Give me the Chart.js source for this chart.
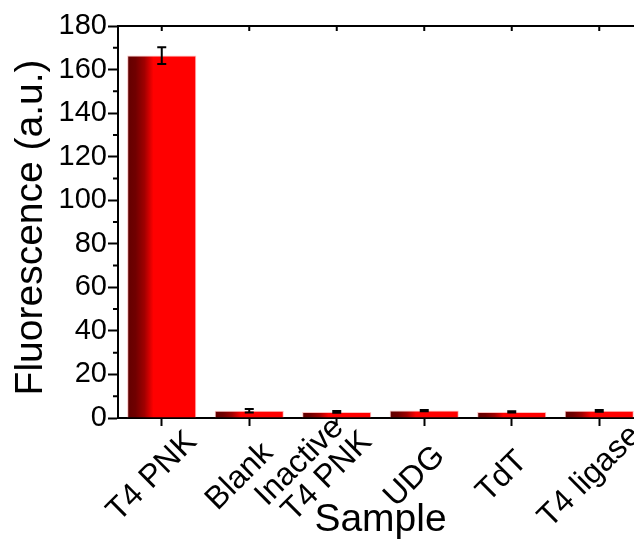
<!DOCTYPE html>
<html>
<head>
<meta charset="utf-8">
<script src="https://cdn.jsdelivr.net/npm/chart.js@4/dist/chart.umd.min.js"></script>
<style>
  html, body { margin: 0; padding: 0; overflow: hidden; background: #fff; }
  #wrap { width: 650px; height: 544px; position: relative; }
</style>
</head>
<body>
<div id="wrap"><canvas id="c" width="650" height="544"></canvas></div>
<script>
// Samples tested and their mean fluorescence with standard deviation
const samples = ['T4 PNK', 'Blank', ['Inactive', 'T4 PNK'], 'UDG', 'TdT', 'T4 ligase'];
const fluorescence = [166.4, 3.3, 2.8, 3.4, 2.8, 3.3];
const errors = [3.8, 0.8, 0.4, 0.3, 0.3, 0.4];
const yMajorTicks = [0, 20, 40, 60, 80, 100, 120, 140, 160, 180];
const yMinorTicks = [10, 30, 50, 70, 90, 110, 130, 150, 170];

const FONT = "'Liberation Sans', Arial, sans-serif";
const BAR_FRACTION = 0.79;
const X_TICK_LEN = 8;

// Horizontal dark-to-bright red fill for each bar
function barFill(ctx) {
  const chart = ctx.chart;
  const x = chart.scales && chart.scales.x;
  if (!chart.chartArea || !x || ctx.dataIndex === undefined) return '#ff0000';
  const center = x.getPixelForValue(ctx.dataIndex);
  const half = (x.width / samples.length) * BAR_FRACTION / 2;
  const g = chart.ctx.createLinearGradient(center - half, 0, center + half, 0);
  g.addColorStop(0, '#620000');
  g.addColorStop(0.12, '#700000');
  g.addColorStop(0.25, '#a00000');
  g.addColorStop(0.38, '#ff0000');
  g.addColorStop(1, '#ff0000');
  return g;
}

// Error bars with short caps
const errorBars = {
  id: 'errorBars',
  afterDatasetsDraw(chart) {
    const meta = chart.getDatasetMeta(0);
    const y = chart.scales.y;
    const c = chart.ctx;
    c.save();
    c.strokeStyle = '#000';
    c.lineWidth = 2;
    meta.data.forEach((bar, i) => {
      const top = y.getPixelForValue(fluorescence[i] + errors[i]);
      const bot = y.getPixelForValue(fluorescence[i] - errors[i]);
      const cap = 4.5;
      c.beginPath();
      c.moveTo(bar.x, top); c.lineTo(bar.x, bot);
      c.moveTo(bar.x - cap, top); c.lineTo(bar.x + cap, top);
      c.moveTo(bar.x - cap, bot); c.lineTo(bar.x + cap, bot);
      c.stroke();
    });
    c.restore();
  }
};

// Top frame line, inward top ticks and minor y ticks
const frame = {
  id: 'frame',
  afterDraw(chart) {
    const { left, top } = chart.chartArea;
    const c = chart.ctx;
    const x = chart.scales.x, y = chart.scales.y;
    c.save();
    c.strokeStyle = '#000';
    c.lineWidth = 2;
    c.beginPath();
    c.moveTo(left - 1, top); c.lineTo(chart.width, top);
    c.stroke();
    c.beginPath();
    samples.forEach((s, i) => {
      const px = x.getPixelForValue(i);
      c.moveTo(px, top); c.lineTo(px, top + 5);
    });
    yMinorTicks.forEach(v => {
      const py = y.getPixelForValue(v);
      c.moveTo(left - 5, py); c.lineTo(left, py);
    });
    c.stroke();
    c.restore();
  }
};

// Sample names, rotated 45 degrees and centred on a point below each tick;
// a wrapped name keeps its last line there and stacks earlier lines above it
const sampleLabels = {
  id: 'sampleLabels',
  afterDraw(chart) {
    const x = chart.scales.x;
    const c = chart.ctx;
    const size = 32, lineH = 30;
    const baseY = chart.chartArea.bottom + 19;
    c.save();
    c.font = size + 'px ' + FONT;
    c.fillStyle = '#000';
    c.textAlign = 'center';
    c.textBaseline = 'middle';
    const spaceW = c.measureText(' ').width;
    const centreShift = size * 1.75;
    samples.forEach((label, i) => {
      const lines = Array.isArray(label) ? label : [label];
      const px = x.getPixelForValue(i);
      c.save();
      c.translate(px + 30, baseY);
      c.rotate(-Math.PI / 4);
      lines.forEach((ln, k) => {
        const last = k === lines.length - 1;
        c.fillText(ln, -centreShift - (last ? 0 : spaceW), (k - (lines.length - 1)) * lineH);
      });
      c.restore();
    });
    c.restore();
  }
};

new Chart(document.getElementById('c'), {
  type: 'bar',
  data: {
    labels: samples,
    datasets: [{
      data: fluorescence,
      backgroundColor: barFill,
      borderColor: 'rgba(255,150,150,0.6)',
      borderWidth: 1,
      borderSkipped: 'bottom',
      categoryPercentage: BAR_FRACTION,
      barPercentage: 1.0
    }]
  },
  options: {
    responsive: false,
    animation: false,
    layout: { padding: { left: 0, top: 26, right: 7, bottom: 0 } },
    plugins: { legend: { display: false }, tooltip: { enabled: false } },
    scales: {
      x: {
        grid: { display: true, offset: false, drawOnChartArea: false, drawTicks: true,
                tickLength: X_TICK_LEN, tickColor: '#000', tickWidth: 2 },
        border: { display: true, color: '#000', width: 2 },
        ticks: { display: false, autoSkip: false },
        title: { display: true, text: 'Sample', color: '#000', font: { family: FONT, size: 39 },
                 padding: { top: 0, bottom: 0 } },
        afterFit(scale) { scale.height = 126; }
      },
      y: {
        min: 0, max: 180,
        afterBuildTicks(scale) { scale.ticks = yMajorTicks.map(v => ({ value: v })); },
        grid: { display: true, drawOnChartArea: false, drawTicks: true,
                tickLength: 10, tickColor: '#000', tickWidth: 2 },
        border: { display: true, color: '#000', width: 2 },
        ticks: { color: '#000', font: { family: FONT, size: 29 }, padding: 1 },
        title: { display: true, text: 'Fluorescence (a.u.) ', color: '#000',
                 font: { family: FONT, size: 39 }, padding: { top: 8, bottom: 0 } },
        afterFit(scale) { scale.width = 118; }
      }
    }
  },
  plugins: [errorBars, frame, sampleLabels]
});
</script>
</body>
</html>
